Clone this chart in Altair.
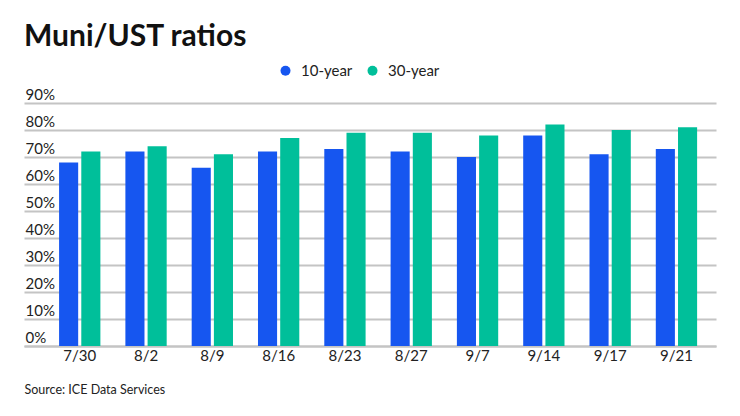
import altair as alt
import pandas as pd

dates = ["7/30", "8/2", "8/9", "8/16", "8/23", "8/27", "9/7", "9/14", "9/17", "9/21"]
ten_year = [68, 72, 66, 72, 73, 72, 70, 78, 71, 73]
thirty_year = [72, 74, 71, 77, 79, 79, 78, 82, 80, 81]
series = ["10-year", "30-year"]
colors = ["#1656F0", "#00BF9A"]
y_ticks = [0, 10, 20, 30, 40, 50, 60, 70, 80, 90]

rows = []
for d, a, b in zip(dates, ten_year, thirty_year):
    rows.append({"date": d, "series": series[0], "value": a})
    rows.append({"date": d, "series": series[1], "value": b})
df = pd.DataFrame(rows)

FONT = "Lato"

chart = (
    alt.Chart(df)
    .mark_bar()
    .encode(
        x=alt.X(
            "date:N",
            sort=dates,
            scale=alt.Scale(paddingInner=0.377, paddingOuter=0.407, align=0.65),
            axis=alt.Axis(
                title="Source: ICE Data Services",
                titleFont=FONT,
                titleFontSize=12.5,
                titleFontWeight="normal",
                titleColor="#222222",
                titleAnchor="start",
                titleAlign="left",
                titleBaseline="alphabetic",
                titleX=0,
                titleY=47,
                labelFont=FONT,
                labelFontSize=15,
                labelColor="#222222",
                labelAngle=0,
                labelBaseline="alphabetic",
                labelPadding=14,
                ticks=False,
                domainColor="#c4c4c4",
                domainWidth=2,
                grid=False,
            ),
        ),
        xOffset=alt.XOffset("series:N", sort=series, scale=alt.Scale(paddingInner=0.14)),
        y=alt.Y(
            "value:Q",
            scale=alt.Scale(domain=[0, 90], nice=False),
            axis=alt.Axis(
                title=None,
                values=y_ticks,
                labelExpr="datum.value + '%'",
                labelFont=FONT,
                labelFontSize=15,
                labelColor="#222222",
                labelAlign="left",
                labelBaseline="alphabetic",
                labelPadding=-1,
                labelOffset=-4,
                ticks=False,
                domain=False,
                grid=True,
                gridColor="#c4c4c4",
                gridWidth=2,
            ),
        ),
        color=alt.Color(
            "series:N",
            sort=series,
            scale=alt.Scale(domain=series, range=colors),
            legend=alt.Legend(
                title=None,
                orient="none",
                direction="horizontal",
                legendX=254,
                legendY=-40,
                symbolType="circle",
                symbolSize=100,
                symbolStrokeWidth=0,
                labelFont=FONT,
                labelFontSize=15,
                labelColor="#222222",
                labelOffset=8,
                columnPadding=12,
            ),
        ),
    )
    .properties(
        width=692,
        height=243,
        title=alt.TitleParams(
            "Muni/UST ratios",
            font=FONT,
            fontSize=30,
            fontWeight="bold",
            color="#111111",
            anchor="start",
            frame="group",
            baseline="alphabetic",
            offset=-13,
        ),
        autosize=alt.AutoSizeParams(type="none"),
        padding={"left": 16, "top": 95, "right": 16, "bottom": 56},
    )
    .configure_view(stroke=None)
)

chart.save("out.html", embed_options={"renderer": "svg", "actions": False})
